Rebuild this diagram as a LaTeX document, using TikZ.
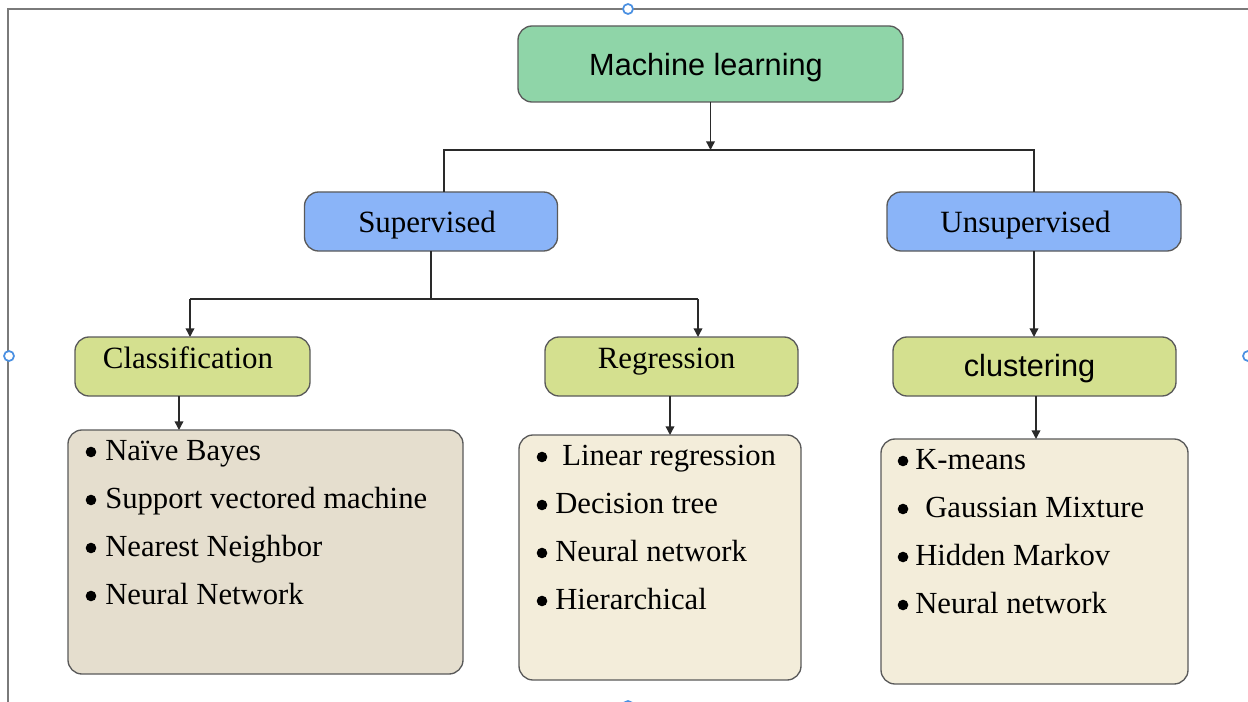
\documentclass[tikz,border=0pt]{standalone}
\usepackage{fontspec}
\setmainfont{Liberation Serif}
\newfontfamily\arialf{Liberation Sans}
\usetikzlibrary{arrows.meta}
\definecolor{mlgreen}{HTML}{8FD5A8}
\definecolor{supblue}{HTML}{8AB4F8}
\definecolor{leafgreen}{HTML}{D4E08F}
\definecolor{listgrey}{HTML}{E5DECE}
\definecolor{listcream}{HTML}{F3EDDA}
\definecolor{edge}{HTML}{5A5A5A}
\definecolor{wire}{HTML}{2A2A2A}
\definecolor{frameline}{HTML}{7A7A7A}
\definecolor{handle}{HTML}{4A90E2}
\tikzset{
  box/.style={draw=edge, line width=1pt, rounded corners=10.5pt, rectangle,
    inner sep=0pt, outer sep=0pt},
  lbl/.style={anchor=base, inner sep=0pt, font=\fontsize{23.2}{27}\selectfont},
  item/.style={anchor=base west, inner sep=0pt, font=\fontsize{23}{27}\selectfont},
  wireline/.style={draw=wire, line width=1.05pt},
  arr/.style={wireline, -{Triangle[length=6.5pt,width=6.5pt]}},
  dot/.style={fill=black, draw=none},
  hdl/.style={draw=handle, fill=white, line width=1.3pt}
}
\begin{document}
\begin{tikzpicture}[x=0.75pt,y=-0.75pt]
\useasboundingbox (0,0) rectangle (1248,702);
\fill[white] (0,0) rectangle (1248,702);

% page frame with selection handles
\draw[frameline, line width=1.8pt] (8,702) -- (8,9) -- (1248,9);
\draw[hdl] (628,9) circle (5);
\draw[hdl] (9,356) circle (5);
\draw[hdl] (1248,356) circle (5);
\draw[hdl] (628,706) circle (5);

% boxes
\node[box, fill=mlgreen, minimum width=288.75pt, minimum height=57pt] (ml) at (710.5,64) {};
\node[box, fill=supblue, minimum width=189.75pt, minimum height=44.25pt] (sup) at (431,221.5) {};
\node[box, fill=supblue, minimum width=220.5pt, minimum height=44.25pt] (uns) at (1034,221.5) {};
\node[box, fill=leafgreen, minimum width=176.25pt, minimum height=44.25pt] (cls) at (192.5,366.5) {};
\node[box, fill=leafgreen, minimum width=189.75pt, minimum height=44.25pt] (reg) at (671.5,366.5) {};
\node[box, fill=leafgreen, minimum width=212.25pt, minimum height=44.25pt] (clu) at (1034.5,366.5) {};
\node[box, fill=listgrey, minimum width=296.25pt, minimum height=183pt] (lone) at (265.5,552) {};
\node[box, fill=listcream, minimum width=211.5pt, minimum height=183.75pt] (ltwo) at (660,557.5) {};
\node[box, fill=listcream, minimum width=230.25pt, minimum height=183.75pt] (lthree) at (1034.5,561.5) {};

% box labels
\node[lbl, font=\arialf\fontsize{23}{27}\selectfont] (tml) at (706,76) {Machine learning};
\node[lbl] (tsup) at (427,232.5) {Supervised};
\node[lbl] (tuns) at (1025.5,232.5) {Unsupervised};
\node[lbl] (tcls) at (188,368.5) {Classification};
\node[lbl] (treg) at (666.5,368.5) {Regression};
\node[lbl, font=\arialf\fontsize{23}{27}\selectfont] (tclu) at (1029.5,376.5) {clustering};

% list items
\foreach \y in {460,508,556,604} \fill[dot] (91,\y-8) circle (5.3);
\node[item] (a1) at (105,460) {Naïve Bayes};
\node[item] (a2) at (105,508) {Support vectored machine};
\node[item] (a3) at (105,556) {Nearest Neighbor};
\node[item] (a4) at (105,604) {Neural Network};

\foreach \y in {465,513,561,609} \fill[dot] (542,\y-8) circle (5.3);
\node[item] (b1) at (562,465) {Linear regression};
\node[item] (b2) at (555,513) {Decision tree};
\node[item] (b3) at (555,561) {Neural network};
\node[item] (b4) at (555,609) {Hierarchical};

\foreach \y in {469,517,565,613} \fill[dot] (903,\y-8) circle (5.3);
\node[item] (c1) at (915,469) {K-means};
\node[item] (c2) at (925,517) {Gaussian Mixture};
\node[item] (c3) at (915,565) {Hidden Markov};
\node[item] (c4) at (915,613) {Neural network};

% connectors
\coordinate (hl) at (444,150);
\coordinate (hr) at (1034,150);
\draw[arr] (ml.south) -- (ml.south |- hl);
\draw[wireline] (sup.north -| hl) -- (hl) -- (hr) -- (uns.north -| hr);

\coordinate (sl) at (190,299);
\coordinate (sr) at (698,299);
\draw[wireline] (sup.south) -- (sup.south |- sl);
\draw[wireline] (sl) -- (sr);
\draw[arr] (sl) -- (cls.north -| sl);
\draw[arr] (sr) -- (reg.north -| sr);

\draw[arr] (uns.south) -- (uns.south |- clu.north);

\coordinate (xa) at (179,0);
\coordinate (xb) at (670,0);
\coordinate (xc) at (1036,0);
\draw[arr] (cls.south -| xa) -- (lone.north -| xa);
\draw[arr] (reg.south -| xb) -- (ltwo.north -| xb);
\draw[arr] (clu.south -| xc) -- (lthree.north -| xc);
\end{tikzpicture}
\end{document}
